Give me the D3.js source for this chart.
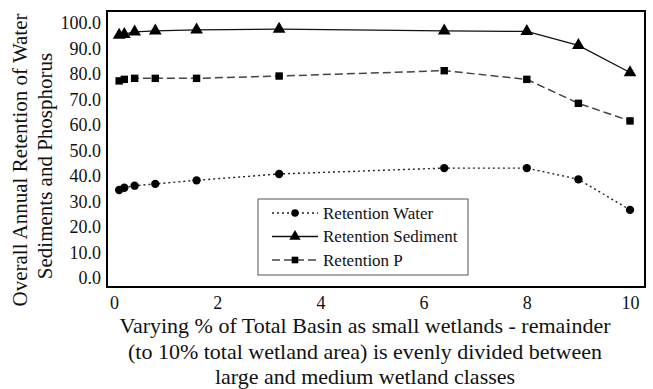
<!DOCTYPE html>
<html>
<head>
<meta charset="utf-8">
<script src="https://cdn.jsdelivr.net/npm/d3@7"></script>
</head>
<body style="margin:0;background:#fff">
<div id="chart"></div>
<script>
// data
const xValues = [0.1, 0.2, 0.4, 0.8, 1.6, 3.2, 6.4, 8, 9, 10];
const water    = [34.5, 35.4, 36.2, 36.9, 38.3, 40.8, 43.1, 43.1, 38.7, 26.7];
const sediment = [95.3, 95.6, 96.5, 96.9, 97.3, 97.6, 96.9, 96.7, 91.2, 80.6];
const phos     = [77.3, 77.9, 78.3, 78.3, 78.3, 79.2, 81.3, 77.9, 68.5, 61.6];
const seriesNames = ["Retention Water", "Retention Sediment", "Retention P"];
const xTicks = [0, 2, 4, 6, 8, 10];
const yTicks = [0, 10, 20, 30, 40, 50, 60, 70, 80, 90, 100];
const xTitle = [
  "Varying % of Total Basin as small wetlands - remainder",
  "(to 10% total wetland area) is evenly divided between",
  "large and medium wetland classes"
];
const yTitle = ["Overall Annual Retention of Water", "Sediments and Phosphorus"];

const width = 653, height = 389;
const box = {left: 107, top: 11, right: 645, bottom: 287};
const FONT = '"Liberation Serif", monospace';

const svg = d3.select("#chart").append("svg")
  .attr("width", width)
  .attr("height", height)
  .style("display", "block");

const x = d3.scaleLinear().domain([0, 10]).range([114, 630]);
const y = d3.scaleLinear().domain([0, 100]).range([278, 23]);

// y tick labels
svg.append("g")
  .attr("transform", `translate(${box.left - 6},0)`)
  .call(d3.axisLeft(y).tickValues(yTicks).tickFormat(d3.format(".1f")).tickSize(0).tickPadding(0))
  .call(g => g.select(".domain").remove())
  .selectAll("text")
  .style("font-family", FONT)
  .style("font-size", "18px")
  .attr("fill", "#111");

// x tick labels
svg.append("g")
  .attr("transform", `translate(0,${box.bottom + 6})`)
  .call(d3.axisBottom(x).tickValues(xTicks).tickFormat(d3.format("d")).tickSize(0).tickPadding(3))
  .call(g => g.select(".domain").remove())
  .selectAll("text")
  .style("font-family", FONT)
  .style("font-size", "18px")
  .attr("fill", "#111");

// plot frame
svg.append("rect")
  .attr("x", box.left).attr("y", box.top)
  .attr("width", box.right - box.left).attr("height", box.bottom - box.top)
  .attr("fill", "none").attr("stroke", "#000").attr("stroke-width", 2);

const series = [
  {name: seriesNames[0], values: water, color: "#222", dash: "2,3", width: 1.4, marker: d3.symbolCircle, size: 55},
  {name: seriesNames[1], values: sediment, color: "#111", dash: null, width: 1.3, marker: d3.symbolTriangle, size: 70},
  {name: seriesNames[2], values: phos, color: "#444", dash: "8,4", width: 1.5, marker: d3.symbolSquare, size: 55}
];

const line = d3.line().x(d => x(d[0])).y(d => y(d[1]));

series.forEach(s => {
  const pts = xValues.map((v, i) => [v, s.values[i]]);
  svg.append("path")
    .datum(pts)
    .attr("d", line)
    .attr("fill", "none")
    .attr("stroke", s.color)
    .attr("stroke-width", s.width)
    .attr("stroke-dasharray", s.dash);
  svg.append("g").selectAll("path")
    .data(pts)
    .enter().append("path")
    .attr("d", d3.symbol().type(s.marker).size(s.size))
    .attr("transform", d => `translate(${x(d[0])},${y(d[1])})`)
    .attr("fill", "#000");
});

// legend
const lg = svg.append("g");
lg.append("rect")
  .attr("x", 258).attr("y", 199).attr("width", 210).attr("height", 76)
  .attr("fill", "#fff").attr("stroke", "#555").attr("stroke-width", 1);
series.forEach((s, i) => {
  const ly = 213 + i * 23.5;
  lg.append("line")
    .attr("x1", 272).attr("x2", 318).attr("y1", ly).attr("y2", ly)
    .attr("stroke", s.color).attr("stroke-width", s.width)
    .attr("stroke-dasharray", s.dash);
  lg.append("path")
    .attr("d", d3.symbol().type(s.marker).size(s.size * 0.8))
    .attr("transform", `translate(295,${ly})`)
    .attr("fill", "#000");
  lg.append("text")
    .attr("x", 323).attr("y", ly).attr("dy", "0.35em")
    .style("font-family", FONT)
    .style("font-size", "17px")
    .attr("fill", "#111")
    .text(s.name);
});

// axis titles
svg.append("g").selectAll("text")
  .data(xTitle)
  .enter().append("text")
  .attr("x", 365)
  .attr("y", (d, i) => 333 + i * 25.5)
  .attr("text-anchor", "middle")
  .style("font-family", FONT)
  .style("font-size", "22px")
  .attr("fill", "#111")
  .text(d => d);

svg.append("g").selectAll("text")
  .data(yTitle)
  .enter().append("text")
  .attr("transform", (d, i) => `translate(${27 + i * 25},${160 + i * 6}) rotate(-90)`)
  .attr("text-anchor", "middle")
  .style("font-family", FONT)
  .style("font-size", "21px")
  .attr("fill", "#111")
  .text(d => d);
</script>
</body>
</html>
